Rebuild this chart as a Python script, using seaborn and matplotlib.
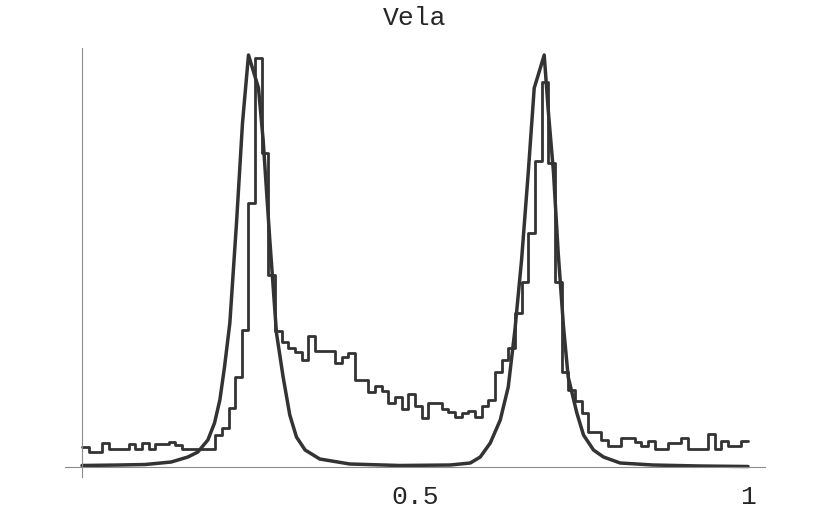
import matplotlib
matplotlib.use("Agg")
import matplotlib.pyplot as plt
import seaborn as sns
import numpy as np

# pulse phase histogram, 100 bins over one rotation (arbitrary units)
counts = [20, 15, 15, 24, 18, 18, 18, 23, 18, 24,
          18, 23, 23, 25, 22, 18, 18, 18, 18, 18,
          32, 39, 59, 90, 137, 264, 409, 314, 192, 136,
          125, 119, 115, 107, 131, 116, 116, 116, 104, 110,
          114, 87, 87, 75, 81, 76, 64, 70, 58, 73,
          61, 49, 64, 64, 58, 55, 50, 54, 56, 50,
          61, 67, 95, 107, 119, 154, 185, 234, 306, 385,
          304, 185, 95, 77, 66, 54, 35, 35, 27, 21,
          21, 29, 29, 25, 21, 26, 18, 18, 24, 24,
          29, 18, 18, 18, 33, 18, 26, 21, 21, 26]
phase_bins = np.arange(100) / 100 + 0.005

# model light curve
curve_phase = [0.0, 0.057, 0.095, 0.134, 0.159, 0.174, 0.189, 0.199, 0.207, 0.214,
               0.222, 0.232, 0.241, 0.250, 0.265, 0.272, 0.282, 0.292, 0.302, 0.312,
               0.322, 0.335, 0.357, 0.402, 0.477, 0.553, 0.583, 0.598, 0.613, 0.628,
               0.640, 0.650, 0.660, 0.670, 0.679, 0.685, 0.694, 0.700, 0.708, 0.715,
               0.723, 0.730, 0.743, 0.753, 0.768, 0.783, 0.808, 0.857, 0.928, 1.0]
curve_height = [1.5, 2, 2.5, 5, 10, 15, 27, 44, 67, 100,
                144, 244, 344, 412, 379, 327, 227, 134, 90, 52,
                30, 17, 8, 3, 1.5, 2, 4, 10, 24, 47,
                80, 137, 207, 294, 379, 392, 412, 357, 294, 214,
                140, 90, 54, 32, 17, 10, 4, 2, 1, 0.5]

sns.set_style("white")
plt.rcParams['font.family'] = ['Liberation Mono', 'DejaVu Sans']

fig = plt.figure(figsize=(8.3, 5.13), dpi=100)
ax = fig.add_axes([65/830, 36/513, 700/830, 429/513])

sns.histplot(x=phase_bins, weights=counts, bins=100, binrange=(0, 1),
             element="step", fill=False, color="#333333", linewidth=2.0, ax=ax)
sns.lineplot(x=curve_phase, y=curve_height, color="#333333", linewidth=2.5, ax=ax)

ax.set_xlim(-0.0255, 1.0255)
ax.set_ylim(-10, 419)
ax.set_xlabel("")
ax.set_ylabel("")
for s in ["top", "right"]:
    ax.spines[s].set_visible(False)
ax.spines["left"].set_position(("data", 0))
ax.spines["bottom"].set_position(("data", 0))
for s in ["left", "bottom"]:
    ax.spines[s].set_color("#8c8c8c")
    ax.spines[s].set_linewidth(0.8)
ax.set_xticks([0.5, 1])
ax.set_xticklabels(["0.5", "1"])
ax.set_yticks([])
ax.tick_params(axis="x", length=0, pad=13, labelsize=19)

fig.text(415/830, 1 - 18/513, "Vela", ha="center", va="center", fontsize=19)

fig.savefig("out.png", dpi=100)
